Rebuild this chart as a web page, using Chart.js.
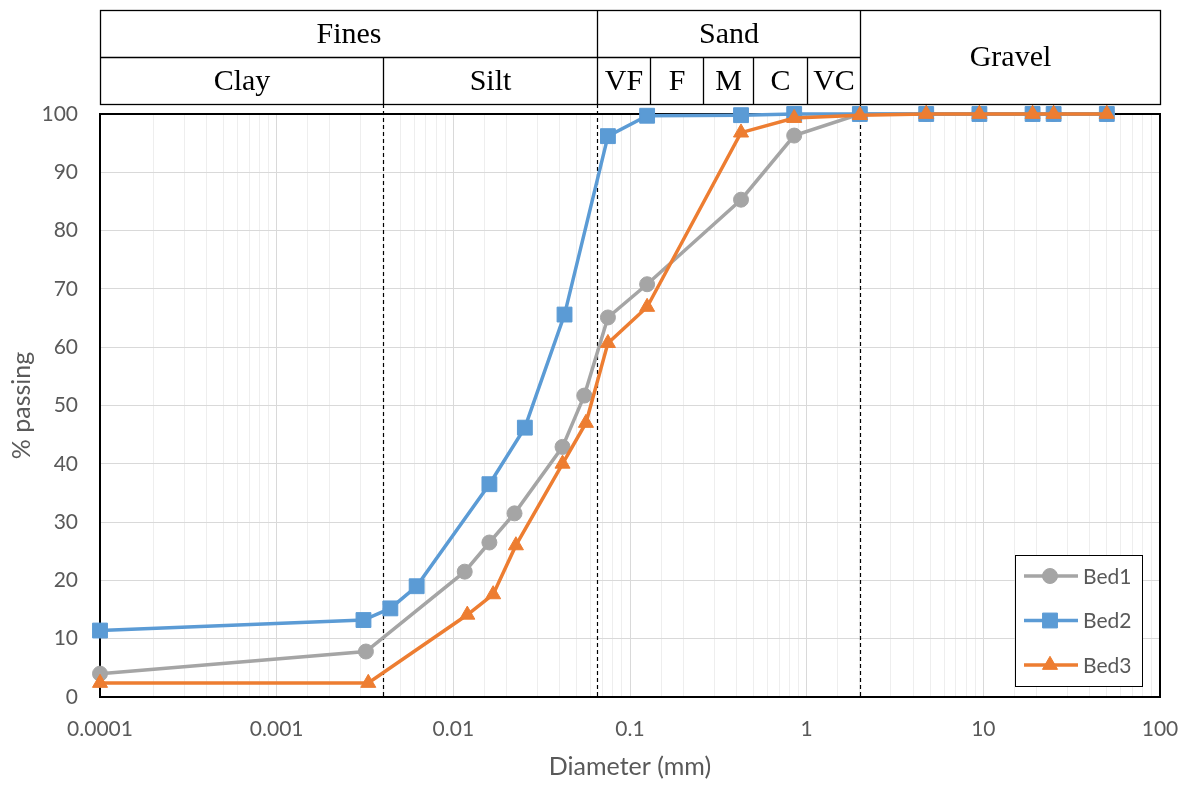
<!DOCTYPE html>
<html>
<head>
<meta charset="utf-8">
<title>Grain size distribution</title>
<script src="https://cdn.jsdelivr.net/npm/chart.js@4.4.0/dist/chart.umd.min.js"></script>
<style>
  html, body { margin: 0; padding: 0; background: #fff; }
</style>
</head>
<body>
<canvas id="grain" width="1185" height="785"></canvas>
<script>
// grain diameter (mm) and % passing for each bed sample
const bed1Diam = [0.0001, 0.0032, 0.0116, 0.016, 0.0222, 0.0415, 0.0551, 0.075, 0.125, 0.425, 0.85, 2, 4.75, 9.5, 19, 25, 50];
const bed1Pass = [4.0, 7.8, 21.5, 26.5, 31.5, 42.9, 51.7, 65.1, 70.8, 85.3, 96.3, 100, 100, 100, 100, 100, 100];

const bed2Diam = [0.0001, 0.0031, 0.0044, 0.0062, 0.016, 0.0254, 0.0426, 0.075, 0.125, 0.425, 0.85, 2, 4.75, 9.5, 19, 25, 50];
const bed2Pass = [11.4, 13.2, 15.2, 19.0, 36.5, 46.2, 65.6, 96.2, 99.7, 99.8, 100, 100, 100, 100, 100, 100, 100];

const bed3Diam = [0.0001, 0.0033, 0.012, 0.0168, 0.0226, 0.0415, 0.0563, 0.075, 0.125, 0.425, 0.85, 2, 4.75, 9.5, 19, 25, 50];
const bed3Pass = [2.4, 2.4, 14.1, 17.6, 26.0, 40.0, 47.0, 60.7, 66.9, 96.8, 99.3, 99.8, 100, 100, 100, 100, 100];

const xTickLabels = ['0.0001', '0.001', '0.01', '0.1', '1', '10', '100'];

// size classes for the header table
const classNames = ['Fines', 'Sand', 'Gravel'];
const classBounds = [0.0001, 0.065, 2, 100];
const subNames = ['Clay', 'Silt', 'VF', 'F', 'M', 'C', 'VC'];
const subBounds = [0.0001, 0.004, 0.065, 0.13, 0.26, 0.5, 1, 2];
const dashedAt = [0.004, 0.065, 2];

const GRAY = '#A5A5A5', BLUE = '#5B9BD5', ORANGE = '#ED7D31';
const TXT = '#595959';

function toXY(xs, ys) {
  return xs.map((x, i) => ({ x, y: ys[i] }));
}

function isDecade(v) {
  const l = Math.log10(v);
  return Math.abs(l - Math.round(l)) < 1e-6;
}

const HEAD_TOP = 10, HEAD_MID = 57, HEAD_BOT = 104;

// header table + dashed class boundaries + plot frame
const sizeClasses = {
  id: 'sizeClasses',
  beforeDatasetsDraw(chart) {
    const { ctx, chartArea: a, scales: { x } } = chart;
    ctx.save();
    ctx.strokeStyle = '#000';
    ctx.lineWidth = 1.2;
    ctx.setLineDash([4, 3]);
    dashedAt.forEach(d => {
      const px = Math.round(x.getPixelForValue(d)) + 0.5;
      ctx.beginPath();
      ctx.moveTo(px, HEAD_BOT);
      ctx.lineTo(px, a.bottom);
      ctx.stroke();
    });
    ctx.setLineDash([]);
    ctx.lineWidth = 2;
    ctx.strokeRect(a.left, a.top, a.right - a.left, a.bottom - a.top);
    ctx.restore();
  },
  afterDraw(chart) {
    const { ctx, scales: { x } } = chart;
    const px = v => Math.round(x.getPixelForValue(v)) + 0.5;
    const left = px(classBounds[0]), right = px(classBounds[classBounds.length - 1]);
    const gravelLeft = px(2);
    ctx.save();
    ctx.strokeStyle = '#000';
    ctx.lineWidth = 1.3;
    ctx.fillStyle = '#fff';
    ctx.fillRect(left, HEAD_TOP, right - left, HEAD_BOT - HEAD_TOP);
    ctx.strokeRect(left, HEAD_TOP + 0.5, right - left, HEAD_BOT - HEAD_TOP);
    ctx.beginPath();
    ctx.moveTo(left, HEAD_MID + 0.5);
    ctx.lineTo(gravelLeft, HEAD_MID + 0.5);
    classBounds.slice(1, -1).forEach(b => {
      ctx.moveTo(px(b), HEAD_TOP);
      ctx.lineTo(px(b), HEAD_BOT + 0.5);
    });
    subBounds.slice(1, -1).forEach(b => {
      ctx.moveTo(px(b), HEAD_MID);
      ctx.lineTo(px(b), HEAD_BOT + 0.5);
    });
    ctx.stroke();

    ctx.fillStyle = '#000';
    ctx.font = '30px "Liberation Serif", "Times New Roman", serif';
    ctx.textAlign = 'center';
    ctx.textBaseline = 'middle';
    classNames.forEach((name, i) => {
      const cx = (px(classBounds[i]) + px(classBounds[i + 1])) / 2;
      const cy = name === 'Gravel' ? (HEAD_TOP + HEAD_BOT) / 2 + 1 : (HEAD_TOP + HEAD_MID) / 2 + 2;
      ctx.fillText(name, cx, cy);
    });
    subNames.forEach((name, i) => {
      const cx = (px(subBounds[i]) + px(subBounds[i + 1])) / 2;
      ctx.fillText(name, cx, (HEAD_MID + HEAD_BOT) / 2 + 2);
    });
    ctx.restore();
  }
};

// boxed legend sitting inside the lower right corner of the plot
const boxLegend = {
  id: 'boxLegend',
  afterDatasetsDraw(chart) {
    const { ctx, chartArea: a } = chart;
    const bx = a.right - 145, by = a.bottom - 142, bw = 127, bh = 131;
    ctx.save();
    ctx.fillStyle = '#fff';
    ctx.fillRect(bx, by, bw, bh);
    ctx.strokeStyle = '#000';
    ctx.lineWidth = 1;
    ctx.strokeRect(bx + 0.5, by + 0.5, bw, bh);
    chart.data.datasets.forEach((ds, i) => {
      const cy = by + 21 + i * 44.5;
      ctx.strokeStyle = ds.borderColor;
      ctx.fillStyle = ds.backgroundColor;
      ctx.lineWidth = 3.5;
      ctx.beginPath();
      ctx.moveTo(bx + 9, cy);
      ctx.lineTo(bx + 63, cy);
      ctx.stroke();
      ctx.lineWidth = 1;
      Chart.helpers.drawPoint(ctx, {
        pointStyle: ds.pointStyle, radius: ds.pointRadius, rotation: 0, borderWidth: 1
      }, bx + 35, cy);
      ctx.fillStyle = TXT;
      ctx.font = '21px Lato, "Open Sans", sans-serif';
      ctx.textAlign = 'left';
      ctx.textBaseline = 'middle';
      ctx.fillText(ds.label, bx + 68, cy + 1);
    });
    ctx.restore();
  }
};

const lineStyle = (label, xs, ys, color, pointStyle, radius, order) => ({
  label,
  data: toXY(xs, ys),
  borderColor: color,
  backgroundColor: color,
  borderWidth: 3.5,
  pointStyle,
  pointRadius: radius,
  pointHoverRadius: radius,
  pointBorderWidth: 1,
  tension: 0,
  clip: false,
  order
});

new Chart(document.getElementById('grain'), {
  type: 'line',
  data: {
    datasets: [
      lineStyle('Bed1', bed1Diam, bed1Pass, GRAY, 'circle', 7.5, 2),
      lineStyle('Bed2', bed2Diam, bed2Pass, BLUE, 'rect', 10.5, 1),
      lineStyle('Bed3', bed3Diam, bed3Pass, ORANGE, 'triangle', 8.7, 0)
    ]
  },
  options: {
    responsive: false,
    animation: false,
    devicePixelRatio: 1,
    layout: { padding: { top: 114, right: 25, left: 0, bottom: 0 } },
    plugins: {
      legend: { display: false },
      tooltip: { enabled: false }
    },
    scales: {
      x: {
        type: 'logarithmic',
        position: 'bottom',
        min: 0.0001,
        max: 100,
        border: { display: false },
        grid: {
          drawTicks: false,
          lineWidth: 1,
          color: c => (c.tick && isDecade(c.tick.value)) ? '#d9d9d9' : '#eeeeee'
        },
        ticks: {
          autoSkip: false,
          maxRotation: 0,
          padding: 20,
          color: TXT,
          font: { family: 'Lato', size: 21 },
          callback: v => isDecade(v) ? xTickLabels[Math.round(Math.log10(v)) + 4] : ''
        },
        title: {
          display: true,
          text: 'Diameter (mm)',
          color: TXT,
          font: { family: 'Lato', size: 25 },
          padding: { top: 0, bottom: 3 }
        },
        afterFit: s => {
          s.height = 88;
          s.paddingLeft = 0;
          s.paddingRight = 0;
        }
      },
      y: {
        min: 0,
        max: 100,
        border: { display: false },
        grid: { drawTicks: false, color: '#d9d9d9', lineWidth: 1 },
        ticks: {
          stepSize: 10,
          padding: 22,
          color: TXT,
          font: { family: 'Lato', size: 21 }
        },
        title: {
          display: true,
          text: '% passing',
          color: TXT,
          font: { family: 'Lato', size: 25 },
          padding: { top: 7, bottom: 0 }
        },
        afterFit: s => {
          s.width = 100;
          s.paddingTop = 0;
          s.paddingBottom = 0;
        }
      }
    }
  },
  plugins: [sizeClasses, boxLegend]
});
</script>
</body>
</html>
